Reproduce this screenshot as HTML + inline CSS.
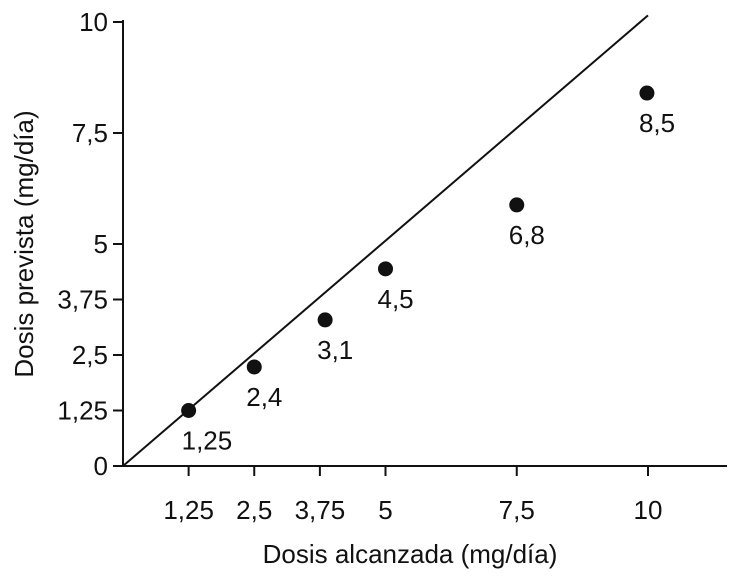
<!DOCTYPE html>
<html><head><meta charset="utf-8"><style>
html,body{margin:0;padding:0;background:#fff;}
svg{display:block;}
text{font-family:"Liberation Sans Narrow","Liberation Sans",sans-serif;font-size:26px;fill:#111;}
</style></head><body>
<svg id="chart" width="730" height="576" viewBox="0 0 730 576">
<g id="axes"></g><g id="marks"></g>
<text x="410" y="563" text-anchor="middle">Dosis alcanzada (mg/día)</text>
<text transform="translate(33,244) rotate(-90)" text-anchor="middle">Dosis prevista (mg/día)</text>
</svg>
<script>
const xTicks=[1.25,2.5,3.75,5,7.5,10];
const xTickLabels=["1,25","2,5","3,75","5","7,5","10"];
const yTicks=[0,1.25,2.5,3.75,5,7.5,10];
const yTickLabels=["0","1,25","2,5","3,75","5","7,5","10"];
const achieved=[1.25,2.5,3.85,5,7.5,9.98];
const predicted=[1.25,2.23,3.29,4.44,5.88,8.4];
const pointLabels=["1,25","2,4","3,1","4,5","6,8","8,5"];
const X=v=>123+52.5*v, Y=v=>466-44.4*v;
const NS="http://www.w3.org/2000/svg";
const ax=document.getElementById('axes'), mk=document.getElementById('marks');
function mkEl(t,a,p){const e=document.createElementNS(NS,t);for(const k in a)e.setAttribute(k,a[k]);p.appendChild(e);return e;}
let e=mkEl('line',{x1:123,y1:466,x2:727,y2:466,stroke:'#111','stroke-width':2},ax);


e=mkEl('line',{x1:123,y1:466,x2:123,y2:20,stroke:'#111','stroke-width':2},ax);


xTicks.forEach((v,i)=>{
 let t=mkEl('line',{x1:X(v),y1:466,x2:X(v),y2:476,stroke:'#111','stroke-width':2},ax);
 
 
 let l=mkEl('text',{x:X(v),y:519,'text-anchor':'middle'},ax);l.textContent=xTickLabels[i];
 
 
});
yTicks.forEach((v,i)=>{
 let t=mkEl('line',{x1:113,y1:Y(v),x2:123,y2:Y(v),stroke:'#111','stroke-width':2},ax);
 
 
 let l=mkEl('text',{x:108,y:Y(v)+9,'text-anchor':'end'},ax);l.textContent=yTickLabels[i];
 
 
});
e=mkEl('line',{x1:X(0),y1:Y(0),x2:X(10),y2:Y(10.15),stroke:'#111','stroke-width':2},mk);


achieved.forEach((v,i)=>{
 let c=mkEl('circle',{cx:X(v),cy:Y(predicted[i]),r:7.5,fill:'#111'},mk);
 
 
 let l=mkEl('text',{x:X(v)+(i==0?-7:-8),y:Y(predicted[i])+39},mk);l.textContent=pointLabels[i];
 
 
});
</script>
</body></html>
